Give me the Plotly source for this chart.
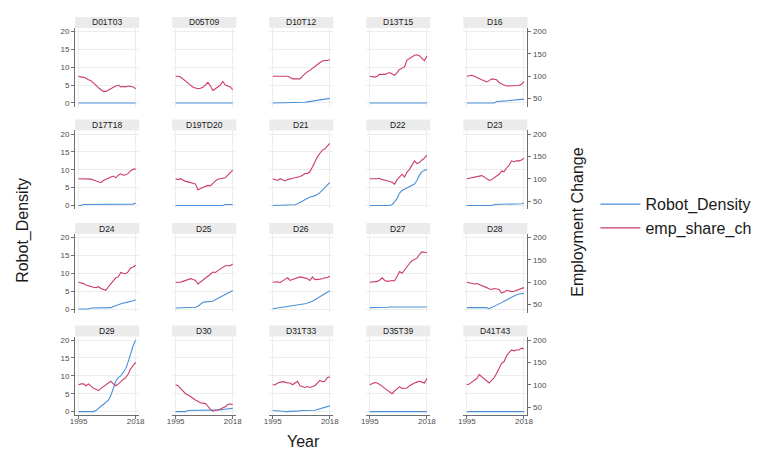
import plotly.graph_objects as go

# ---------------- data ----------------
years = list(range(1995, 2019))
sectors = ["D01T03", "D05T09", "D10T12", "D13T15", "D16",
           "D17T18", "D19TD20", "D21", "D22", "D23",
           "D24", "D25", "D26", "D27", "D28",
           "D29", "D30", "D31T33", "D35T39", "D41T43"]
x_tick_values = [1995, 2018]
x_tick_labels = ["1995", "2018"]
left_tick_values = [0, 5, 10, 15, 20]
right_tick_values = [50, 100, 150, 200]

rd_D01T03 = [0] * 24
emp_D01T03 = [100, 98, 98, 94, 92, 90, 86, 80, 74, 69, 66, 66, 70, 72, 75, 78, 80, 76, 77, 76, 78, 77, 76, 72]
rd_D05T09 = [0] * 24
emp_D05T09 = [100, 100, 98, 94, 90, 86, 80, 75, 73, 72, 73, 75, 80, 86, 78, 68, 72, 76, 80, 88, 80, 78, 76, 70]
rd_D10T12 = [0, 0, 0, 0, 0, 0, 0, 0, 0, 0, 0, 0, 0.1, 0.2, 0.3, 0.4, 0.5, 0.6, 0.7, 0.8, 0.9, 1.0, 1.2, 1.3]
emp_D10T12 = [100, 100, 100, 100, 100, 100, 100, 97, 94, 94, 94, 94, 100, 106, 110, 113, 118, 122, 126, 130, 134, 135, 135, 137]
rd_D13T15 = [0] * 24
emp_D13T15 = [100, 99, 98, 100, 104, 104, 104, 106, 108, 105, 102, 108, 115, 118, 121, 136, 140, 144, 147, 148, 146, 140, 135, 145]
rd_D16 = [0, 0, 0, 0, 0, 0, 0, 0, 0, 0, 0, 0, 0.4, 0.4, 0.5, 0.6, 0.6, 0.7, 0.8, 0.8, 0.9, 1.0, 1.0, 1.0]
emp_D16 = [100, 101, 102, 100, 97, 95, 92, 90, 87, 90, 94, 93, 92, 86, 82, 80, 78, 78, 78, 78, 78, 79, 82, 88]
rd_D17T18 = [0, 0, 0.3, 0.3, 0.3, 0.3, 0.3, 0.3, 0.3, 0.3, 0.3, 0.3, 0.3, 0.3, 0.3, 0.3, 0.3, 0.3, 0.3, 0.3, 0.3, 0.3, 0.4, 0.7]
emp_D17T18 = [100, 100, 100, 100, 100, 99, 97, 95, 93, 91, 96, 99, 102, 104, 106, 102, 108, 111, 108, 109, 112, 118, 121, 122]
rd_D19TD20 = [0, 0, 0, 0, 0, 0, 0, 0, 0, 0, 0, 0, 0, 0, 0, 0, 0, 0, 0, 0, 0.3, 0.3, 0.3, 0.3]
emp_D19TD20 = [100, 98, 100, 96, 94, 93, 92, 90, 88, 75, 78, 80, 83, 85, 84, 90, 95, 99, 100, 100, 102, 108, 114, 119]
rd_D21 = [0, 0, 0, 0, 0, 0, 0, 0, 0, 0.2, 0.5, 0.9, 1.3, 1.7, 2.1, 2.4, 2.5, 2.7, 3.1, 3.6, 4.2, 5.0, 5.8, 6.4]
emp_D21 = [100, 98, 96, 100, 98, 95, 98, 100, 101, 102, 103, 105, 108, 111, 112, 116, 126, 138, 149, 157, 164, 167, 172, 179]
rd_D22 = [0, 0, 0, 0, 0, 0, 0, 0, 0, 0.3, 1.0, 2.0, 3.5, 4.2, 4.6, 5.0, 5.3, 5.6, 6.0, 7.0, 8.5, 9.5, 9.9, 10.1]
emp_D22 = [100, 100, 99, 100, 101, 98, 97, 95, 94, 92, 88, 98, 104, 110, 104, 115, 121, 130, 140, 134, 136, 142, 146, 153]
rd_D23 = [0, 0, 0, 0, 0, 0, 0, 0, 0, 0, 0, 0.3, 0.3, 0.3, 0.3, 0.3, 0.3, 0.3, 0.3, 0.3, 0.4, 0.4, 0.5, 0.7]
emp_D23 = [100, 101, 102, 103, 104, 106, 107, 104, 100, 96, 98, 102, 105, 110, 117, 116, 124, 130, 140, 138, 140, 140, 142, 146]
rd_D24 = [0, 0, 0, 0, 0, 0.3, 0.3, 0.3, 0.3, 0.3, 0.3, 0.3, 0.3, 0.4, 0.7, 1.0, 1.2, 1.5, 1.7, 1.8, 1.9, 2.0, 2.3, 2.6]
emp_D24 = [100, 99, 97, 94, 92, 90, 89, 88, 90, 86, 84, 82, 90, 96, 104, 110, 112, 122, 120, 119, 124, 132, 134, 138]
rd_D25 = [0.3, 0.3, 0.3, 0.3, 0.3, 0.3, 0.4, 0.4, 0.5, 0.8, 1.4, 1.9, 2.0, 2.0, 2.0, 2.2, 2.6, 3.0, 3.4, 3.8, 4.2, 4.6, 5.0, 5.2]
emp_D25 = [100, 100, 100, 102, 104, 106, 108, 106, 104, 96, 100, 106, 109, 112, 118, 123, 122, 126, 130, 133, 137, 137, 137, 141]
rd_D26 = [0.1, 0.2, 0.3, 0.4, 0.5, 0.6, 0.7, 0.8, 0.8, 0.9, 1.0, 1.2, 1.4, 1.5, 1.7, 1.9, 2.2, 2.6, 3.0, 3.5, 4.0, 4.4, 4.8, 5.1]
emp_D26 = [100, 100, 101, 99, 104, 107, 110, 104, 106, 108, 110, 112, 111, 110, 108, 104, 112, 106, 106, 107, 108, 110, 110, 114]
rd_D27 = [0.4, 0.4, 0.3, 0.3, 0.3, 0.4, 0.5, 0.5, 0.6, 0.6, 0.6, 0.5, 0.4, 0.4, 0.4, 0.4, 0.4, 0.4, 0.4, 0.4, 0.5, 0.6, 0.6, 0.6]
emp_D27 = [100, 101, 101, 102, 105, 110, 104, 102, 103, 104, 103, 114, 124, 120, 128, 134, 142, 148, 152, 154, 162, 168, 167, 166]
rd_D28 = [0.4, 0.4, 0.4, 0.4, 0.4, 0.4, 0.4, 0.4, 0.4, 0.1, 0.4, 0.7, 1.0, 1.4, 1.8, 2.2, 2.6, 3.0, 3.4, 3.7, 4.0, 4.2, 4.3, 4.4]
emp_D28 = [100, 99, 97, 96, 97, 95, 93, 91, 88, 85, 84, 86, 85, 84, 76, 78, 82, 80, 79, 80, 82, 84, 86, 88]
rd_D29 = [0, 0, 0, 0, 0, 0, 0, 0.3, 1.0, 1.5, 2.0, 2.5, 3.2, 4.5, 6.5, 8.5, 9.5, 10.0, 11.0, 12.0, 14.0, 16.5, 18.5, 20.0]
emp_D29 = [100, 102, 102, 98, 102, 96, 92, 90, 87, 92, 96, 100, 104, 108, 102, 98, 102, 108, 112, 116, 124, 136, 144, 150]
rd_D30 = [0, 0, 0, 0, 0, 0.3, 0.3, 0.3, 0.3, 0.3, 0.4, 0.4, 0.4, 0.4, 0.4, 0.4, 0.4, 0.5, 0.5, 0.6, 0.7, 0.8, 0.9, 0.9]
emp_D30 = [100, 98, 92, 86, 80, 77, 74, 70, 66, 62, 60, 59, 58, 52, 45, 41, 42, 44, 46, 49, 51, 56, 57, 56]
rd_D31T33 = [0.3, 0.3, 0.3, 0.2, 0.1, 0, 0, 0, 0, 0, 0, 0.2, 0.3, 0.3, 0.3, 0.3, 0.3, 0.4, 0.6, 0.8, 1.0, 1.2, 1.4, 1.6]
emp_D31T33 = [100, 100, 104, 106, 107, 106, 104, 104, 100, 104, 108, 98, 96, 94, 96, 94, 96, 98, 104, 110, 107, 108, 116, 118]
rd_D35T39 = [0] * 24
emp_D35T39 = [100, 103, 105, 104, 101, 97, 92, 88, 84, 80, 86, 92, 96, 92, 92, 93, 98, 102, 104, 106, 108, 106, 104, 114]
rd_D41T43 = [0] * 24
emp_D41T43 = [100, 102, 106, 110, 114, 123, 118, 113, 108, 104, 110, 116, 126, 138, 148, 152, 165, 172, 178, 176, 178, 178, 182, 180]

robot_density = [rd_D01T03, rd_D05T09, rd_D10T12, rd_D13T15, rd_D16,
                 rd_D17T18, rd_D19TD20, rd_D21, rd_D22, rd_D23,
                 rd_D24, rd_D25, rd_D26, rd_D27, rd_D28,
                 rd_D29, rd_D30, rd_D31T33, rd_D35T39, rd_D41T43]
emp_share_ch = [emp_D01T03, emp_D05T09, emp_D10T12, emp_D13T15, emp_D16,
                emp_D17T18, emp_D19TD20, emp_D21, emp_D22, emp_D23,
                emp_D24, emp_D25, emp_D26, emp_D27, emp_D28,
                emp_D29, emp_D30, emp_D31T33, emp_D35T39, emp_D41T43]

# ---------------- layout geometry ----------------
W, H = 759, 451
col_left = [63, 161.5, 260, 358.5, 457]
row_top = [19, 122, 226, 329]
pw, ph = 65, 79
strip_h = 11
BLUE = "#4a90d9"
RED = "#cc3a68"
GRID = "#ededed"
AXC = "#6e6e6e"
TXT = "#4d4d4d"
FONT = "Liberation Sans, Arial, sans-serif"

fig = go.Figure()
layout = dict(width=W, height=H, margin=dict(l=0, r=0, t=0, b=0),
              plot_bgcolor="white", paper_bgcolor="white",
              font=dict(family=FONT, color="#1a1a1a"),
              showlegend=True)
shapes, annotations = [], []

for i, name in enumerate(sectors):
    r, c = divmod(i, 5)
    n = i + 1
    xs = "" if n == 1 else str(n)
    x0, x1 = col_left[c] / W, (col_left[c] + pw) / W
    y1, y0 = 1 - row_top[r] / H, 1 - (row_top[r] + ph) / H

    fig.add_trace(go.Scatter(x=years, y=robot_density[i], mode="lines",
                             line=dict(color=BLUE, width=1.1),
                             name="Robot_Density", legendgroup="rd",
                             showlegend=(i == 0),
                             xaxis="x" + xs, yaxis="y" + xs))
    fig.add_trace(go.Scatter(x=years, y=emp_share_ch[i], mode="lines",
                             line=dict(color=RED, width=1.1),
                             name="emp_share_ch", legendgroup="emp",
                             showlegend=(i == 0),
                             xaxis="x" + xs, yaxis="y" + str(n + 20)))

    bottom = (r == 3)
    layout["xaxis" + xs] = dict(
        domain=[x0, x1], anchor="y" + xs, range=[1993.6, 2019.4],
        tickvals=x_tick_values, ticktext=x_tick_labels,
        showticklabels=bottom, ticks="outside" if bottom else "",
        ticklen=3, tickcolor=AXC, tickfont=dict(size=8, color=TXT),
        ticklabelstandoff=-5,
        showline=bottom, linecolor=AXC, linewidth=1,
        showgrid=True, gridcolor=GRID, gridwidth=0.6, zeroline=False)
    left = (c == 0)
    layout["yaxis" + xs] = dict(
        domain=[y0, y1], anchor="x" + xs, range=[-1, 21],
        tickvals=left_tick_values,
        showticklabels=left, ticks="outside" if left else "",
        ticklen=3, tickcolor=AXC, tickfont=dict(size=8, color=TXT),
        showline=left, linecolor=AXC, linewidth=1,
        showgrid=True, gridcolor=GRID, gridwidth=0.6, zeroline=False)
    right = (c == 4)
    layout["yaxis" + str(n + 20)] = dict(
        overlaying="y" + xs, anchor="x" + xs, side="right",
        range=[32, 208], tickvals=right_tick_values,
        showticklabels=right, ticks="outside" if right else "",
        ticklen=3, tickcolor=AXC, tickfont=dict(size=8, color=TXT),
        showline=right, linecolor=AXC, linewidth=1,
        showgrid=False, zeroline=False, visible=right)

    shapes.append(dict(type="rect", xref="paper", yref="paper",
                       x0=x0, x1=x1, y0=y1, y1=1 - (row_top[r] - strip_h) / H,
                       fillcolor="#ebebeb", line=dict(width=0), layer="below"))
    annotations.append(dict(text=name, xref="paper", yref="paper",
                            x=(x0 + x1) / 2, y=1 - (row_top[r] - strip_h / 2) / H,
                            showarrow=False, xanchor="center", yanchor="middle",
                            font=dict(size=8.5, color="#1a1a1a")))

annotations += [
    dict(text="Robot_Density", xref="paper", yref="paper", x=10 / W, y=1 - 222 / H,
         textangle=-90, showarrow=False, font=dict(size=16, color="#1a1a1a"),
         xanchor="center", yanchor="middle"),
    dict(text="Year", xref="paper", yref="paper", x=295 / W, y=1 - 434 / H,
         showarrow=False, font=dict(size=16, color="#1a1a1a"),
         xanchor="center", yanchor="middle"),
    dict(text="Employment Change", xref="paper", yref="paper", x=572 / W, y=1 - 214 / H,
         textangle=-90, showarrow=False, font=dict(size=16, color="#1a1a1a"),
         xanchor="center", yanchor="middle"),
]

layout["shapes"] = shapes
layout["annotations"] = annotations
layout["legend"] = dict(x=591 / W, y=1 - 179 / H, xanchor="left", yanchor="top",
                        font=dict(size=16, color="#1a1a1a"), itemwidth=40,
                        bgcolor="rgba(0,0,0,0)", borderwidth=0, tracegroupgap=0)
fig.update_layout(**layout)
fig.write_html("out.html")
